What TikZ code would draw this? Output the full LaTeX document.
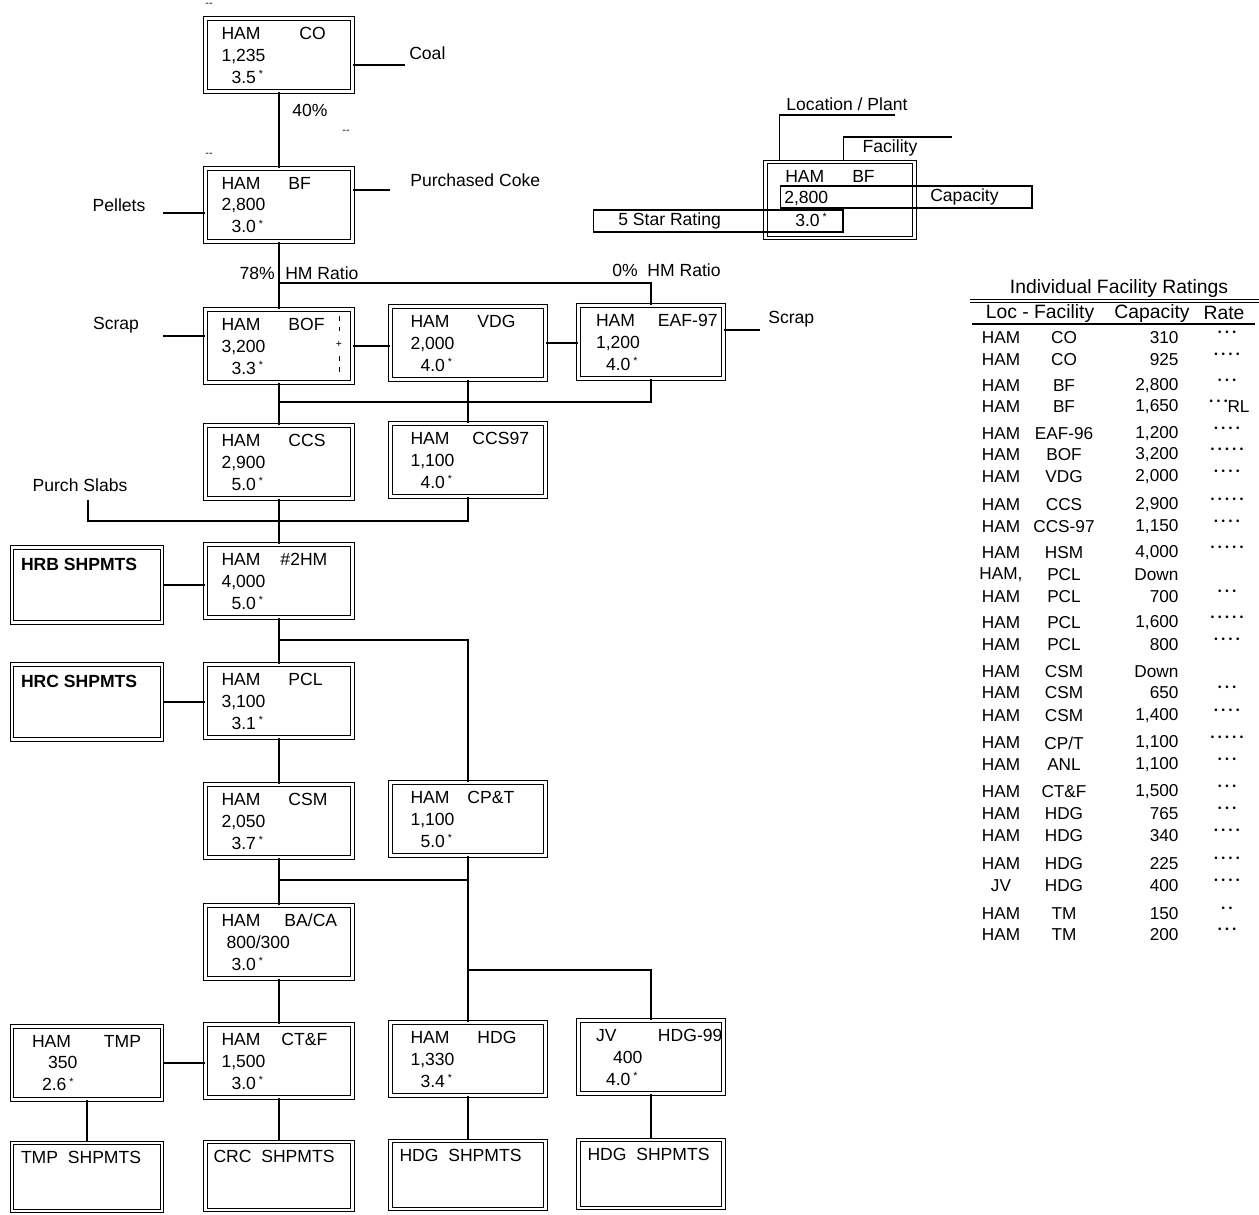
\documentclass[tikz,border=0pt]{standalone}
\usepackage{fontspec}
\setmainfont{Liberation Sans}
\usepackage{tikz}

\newcommand{\boxfont}{\fontsize{10}{12.5}\selectfont}
\newcommand{\tabfont}{\fontsize{9.8}{11}\selectfont}
\newcommand{\fac}[3][1.34cm]{\makebox[#1][l]{#2}\mbox{#3}}
\newcommand{\st}{\,\raisebox{.3em}{\fontsize{6}{6}\selectfont *}}
\newcommand{\ind}{\hspace*{0.2cm}}
\newcommand{\rate}[1]{{\fontsize{5.5}{6}\selectfont\ifnum#1>0 \foreach \k in {1,...,#1}{\textbullet\hspace{2.2pt}}\fi}}

\begin{document}
\begin{tikzpicture}[x=0.02cm, y=-0.02cm, line width=.6pt,
facbox/.style={draw, double, double distance=1.6pt, align=left, font=\boxfont, minimum height=1.46cm, inner ysep=0pt},
colA/.style={facbox, text width=2.3cm, inner xsep=.32cm},
colB/.style={facbox, text width=2.3cm, inner xsep=.4cm},
colC/.style={facbox, text width=2.2cm, inner xsep=.35cm},
colL/.style={facbox, text width=2.2cm, inner xsep=.4cm},
shipbox/.style={draw, double, double distance=1.6pt, inner sep=0pt, minimum height=1.36cm},
shiptext/.style={anchor=west, font=\boxfont, inner sep=0pt},
lbl/.style={font=\boxfont, inner sep=1pt},
tagbox/.style={draw, inner sep=0pt, minimum height=.44cm},
tick/.style={font=\fontsize{6}{6}\selectfont, inner sep=0pt},
cell/.style={font=\tabfont, inner sep=0pt},
]
\useasboundingbox (0,0) rectangle (1259,1215);

%Facilities
\node[colA] (co)    at (279,55)   {\fac[1.56cm]{HAM}{CO}\\1,235\\\ind 3.5\st};
\node[colA] (bf)    at (279,205)  {\fac{HAM}{BF}\\2,800\\\ind 3.0\st};
\node[colA] (bof)   at (279,346)  {\fac{HAM}{BOF}\\3,200\\\ind 3.3\st};
\node[colB] (vdg)   at (468,343)  {\fac{HAM}{VDG}\\2,000\\\ind 4.0\st};
\node[colC] (eaf)   at (651,342)  {\fac[1.24cm]{HAM}{EAF-97}\\1,200\\\ind 4.0\st};
\node[colA] (ccs)   at (279,462)  {\fac{HAM}{CCS}\\2,900\\\ind 5.0\st};
\node[colB] (ccs97) at (468,460)  {\fac[1.24cm]{HAM}{CCS97}\\1,100\\\ind 4.0\st};
\node[colA] (hm2)   at (279,581)  {\fac[1.18cm]{HAM}{\#2HM}\\4,000\\\ind 5.0\st};
\node[colA] (pcl)   at (279,701)  {\fac{HAM}{PCL}\\3,100\\\ind 3.1\st};
\node[colA] (csm)   at (279,821)  {\fac{HAM}{CSM}\\2,050\\\ind 3.7\st};
\node[colB] (cpt)   at (468,819)  {\fac[1.14cm]{HAM}{CP\&T}\\1,100\\\ind 5.0\st};
\node[colA] (baca)  at (279,942)  {\fac[1.26cm]{HAM}{BA/CA}\\\hspace*{0.1cm}800/300\\\ind 3.0\st};
\node[colL] (tmp)   at (87,1063)  {\fac[1.44cm]{HAM}{TMP}\\\hspace*{0.32cm}350\\\ind 2.6\st};
\node[colA] (ctf)   at (279,1061) {\fac[1.2cm]{HAM}{CT\&F}\\1,500\\\ind 3.0\st};
\node[colB] (hdg)   at (468,1059) {\fac{HAM}{HDG}\\1,330\\\ind 3.4\st};
\node[colC] (hdg99) at (651,1057) {\fac[1.24cm]{JV}{HDG-99}\\\hspace*{0.34cm}400\\\ind 4.0\st};

%Shipments
\node[shipbox, minimum width=3cm, minimum height=1.5cm] (hrb) at (87,585) {};
\node[shipbox, minimum width=3cm, minimum height=1.5cm] (hrc) at (87,702) {};
\node[shipbox, minimum width=3cm]    (tmps)   at (87,1177)  {};
\node[shipbox, minimum width=2.94cm] (crcs)   at (279,1176) {};
\node[shipbox, minimum width=3.1cm]  (hdgs)   at (468,1175) {};
\node[shipbox, minimum width=2.9cm]  (hdg99s) at (651,1174) {};
\node[shiptext] (hrbt)    at ([shift={(9,17)}]hrb.north west)    {\bfseries HRB SHPMTS};
\node[shiptext] (hrct)    at ([shift={(9,17)}]hrc.north west)    {\bfseries HRC SHPMTS};
\node[shiptext] (tmpst)   at ([shift={(9,15)}]tmps.north west)   {TMP\ \ SHPMTS};
\node[shiptext] (crcst)   at ([shift={(8,15)}]crcs.north west)   {CRC\ \ SHPMTS};
\node[shiptext] (hdgst)   at ([shift={(9,15)}]hdgs.north west)   {HDG\ \ SHPMTS};
\node[shiptext] (hdg99st) at ([shift={(9,15)}]hdg99s.north west) {HDG\ \ SHPMTS};

%BOF mark
\draw[dashed, line width=.4pt] ([shift={(-14,7)}]bof.north east) -- ([shift={(-14,22)}]bof.north east);
\draw[dashed, line width=.4pt] ([shift={(-14,47)}]bof.north east) -- ([shift={(-14,63)}]bof.north east);
\node[tick] (bofplus) at ([shift={(-14,35)}]bof.north east) {+};

%Ticks
\node[tick] (tk1) at (209,5)   {-{}-};
\node[tick] (tk2) at (346,132) {-{}-};
\node[tick] (tk3) at (209,155) {-{}-};

%Labels
\node[lbl, anchor=west] (coal)   at (407,53)  {Coal};
\node[lbl]              (pct40)  at (310,110) {40\%};
\node[lbl, anchor=west] (coke)   at (408,180) {Purchased Coke};
\node[lbl]              (pell)   at (119,205) {Pellets};
\node[lbl, anchor=east] (pct78)  at (277,273) {78\%};
\node[lbl, anchor=west] (hmr)    at (283,273) {HM Ratio};
\node[lbl, anchor=west] (hmr0)   at (610,270) {0\%\ \ HM Ratio};
\node[lbl]              (scrl)   at (116,325) {Scrap};
\node[lbl, anchor=west] (scrr)   at (766,319) {Scrap};
\node[lbl]              (slabs)  at (80,485)  {Purch Slabs};

%Junctions
\coordinate (coalend)   at (405,65);
\coordinate (cokeend)   at (390,190);
\coordinate (pelletend) at (163,213);
\coordinate (hmsplit)   at (279,283);
\coordinate (scrapL)    at (163,336);
\coordinate (scrapR)    at (760,330);
\coordinate (steelbus)  at (279,402);
\coordinate (slabend)   at (88,500);
\coordinate (slabbus)   at (279,521);
\coordinate (millbus)   at (279,640);
\coordinate (coatbus)   at (279,880);
\coordinate (hdgbus)    at (468,970);

%Lines
\draw (co.south) -- (bf.north);
\draw (co.east |- coalend) -- (coalend);
\draw (bf.east |- cokeend) -- (cokeend);
\draw (pelletend) -- (pelletend -| bf.west);
\draw (bf.south) -- (bof.north);
\draw (hmsplit) -| (eaf.north);
\draw (scrapL) -- (scrapL -| bof.west);
\draw (bof.east) -- (bof.east -| vdg.west);
\draw (vdg.east) -- (vdg.east -| eaf.west);
\draw (eaf.east |- scrapR) -- (scrapR);
\draw (bof.south) -- (ccs.north);
\draw (steelbus) -| (eaf.south);
\draw (vdg.south) -- (ccs97.north);
\draw (slabend) |- (ccs97.south |- slabbus) -- (ccs97.south);
\draw (ccs.south) -- (hm2.north);
\draw (hrb.east) -- (hrb.east -| hm2.west);
\draw (hm2.south) -- (pcl.north);
\draw (millbus) -| (cpt.north);
\draw (hrc.east) -- (hrc.east -| pcl.west);
\draw (pcl.south) -- (csm.north);
\draw (csm.south) -- (baca.north);
\draw (coatbus) -- (coatbus -| cpt.south);
\draw (cpt.south) -- (hdg.north);
\draw (hdgbus) -| (hdg99.north);
\draw (baca.south) -- (ctf.north);
\draw (tmp.east) -- (tmp.east -| ctf.west);
\draw (tmp.south) -- (tmps.north);
\draw (ctf.south) -- (crcs.north);
\draw (hdg.south) -- (hdgs.north);
\draw (hdg99.south) -- (hdg99s.north);

%Key
\node[facbox, minimum width=2.98cm, minimum height=1.52cm] (key) at (840,200) {};
\node[tagbox, minimum width=5.04cm] (capbox)  at (906,197) {};
\node[tagbox, minimum width=5cm]    (ratebox) at (718,221) {};
\node[lbl, anchor=west] (keyhead) at (783,176) {\fac{HAM}{BF}};
\node[lbl, anchor=west] (keycap)  at (782,198) {2,800};
\node[lbl, anchor=west] (capt)    at (928,197) {Capacity};
\node[lbl, anchor=west] (ratet)   at (616,221) {5 Star Rating};
\node[lbl, anchor=west] (keyrate) at (793,220) {3.0\st};
\node[lbl] (loct) at (847,104) {Location / Plant};
\node[lbl] (fact) at (890,148) {Facility};
\coordinate (locend) at (895,115);
\coordinate (facend) at (952,137);
\draw (key.north -| capbox.west) |- (locend);
\draw (key.north -| ratebox.east) |- (facend);

%Ratings table
\node[cell, font=\fontsize{11}{12}\selectfont] (ttl) at (1119,288) {Individual Facility Ratings};
\draw[double, double distance=.8pt] (970,301) -- (1259,301);
\node[cell, font=\fontsize{11}{12}\selectfont] (hloc)  at (1040,313) {Loc - Facility};
\node[cell, font=\fontsize{11}{12}\selectfont] (hcap)  at (1152,313) {Capacity};
\node[cell, font=\fontsize{11}{12}\selectfont] (hrate) at (1224,313) {Rate};
\draw (972,324) -- (1255,324);
\foreach \ry/\lo/\fa/\ca/\ra in {338/HAM/CO/310/3, 360/HAM/CO/925/4, 386/HAM/BF/2{,}800/3,
  434/HAM/EAF-96/1{,}200/4, 455/HAM/BOF/3{,}200/5, 477/HAM/VDG/2{,}000/4,
  505/HAM/CCS/2{,}900/5, 527/HAM/CCS-97/1{,}150/4,
  553/HAM/HSM/4{,}000/5, 575/HAM{,}/PCL/Down/0, 597/HAM/PCL/700/3,
  623/HAM/PCL/1{,}600/5, 645/HAM/PCL/800/4,
  672/HAM/CSM/Down/0, 693/HAM/CSM/650/3, 716/HAM/CSM/1{,}400/4,
  743/HAM/CP{/}T/1{,}100/5, 765/HAM/ANL/1{,}100/3,
  792/HAM/CT\&F/1{,}500/3, 814/HAM/HDG/765/3, 836/HAM/HDG/340/4,
  864/HAM/HDG/225/4, 886/JV/HDG/400/4,
  914/HAM/TM/150/2, 935/HAM/TM/200/3}
{
  \node[cell] (loc-\ry) at (1001,\ry) {\lo};
  \node[cell] (fac-\ry) at (1064,\ry) {\fa};
  \node[cell, anchor=east] (cap-\ry) at (1179,\ry) {\ca};
  \node[cell] (rt-\ry) at (1227,\ry-5) {\rate{\ra}};
}
\node[cell] (loc-407) at (1001,407) {HAM};
\node[cell] (fac-407) at (1064,407) {BF};
\node[cell, anchor=east] (cap-407) at (1179,407) {1,650};
\node[cell, anchor=east] (rt-407) at (1228,402) {\rate{3}};
\node[cell, anchor=west] (rl-407) at (1227,407) {RL};
\end{tikzpicture}
\end{document}
